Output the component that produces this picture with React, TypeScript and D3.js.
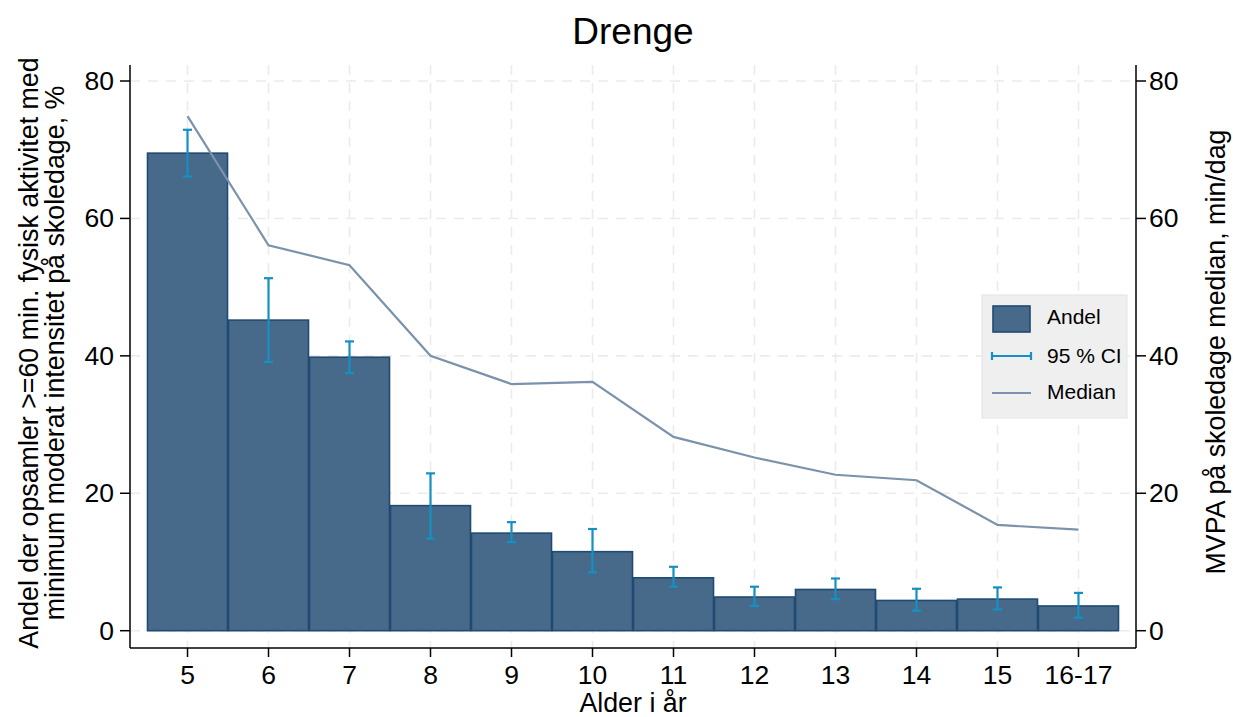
import React from "react";
import * as d3 from "d3";

// Age groups on the x axis
const ageGroups = ["5", "6", "7", "8", "9", "10", "11", "12", "13", "14", "15", "16-17"];
// Share meeting >=60 min MVPA on school days, %
const shareValues = [69.5, 45.2, 39.8, 18.2, 14.2, 11.5, 7.7, 4.9, 6.0, 4.4, 4.6, 3.6];
// 95 % confidence interval bounds, %
const ciLower = [66.1, 39.1, 37.5, 13.4, 12.9, 8.5, 6.4, 3.6, 4.6, 2.9, 3.1, 1.9];
const ciUpper = [72.9, 51.3, 42.1, 22.9, 15.8, 14.8, 9.3, 6.4, 7.6, 6.1, 6.3, 5.5];
// Median MVPA on school days, min/day
const medianValues = [74.9, 56.1, 53.2, 40.0, 35.9, 36.2, 28.2, 25.2, 22.7, 21.9, 15.4, 14.7];
// Tick values shared by both y axes
const yTicks = [0, 20, 40, 60, 80];

const W = 1233;
const H = 717;
const FONT = "'Liberation Sans', Arial, Helvetica, sans-serif";
const BAR_FILL = "#486a8a";
const BAR_STROKE = "#1f4a72";
const CI_COLOR = "#1590c4";
const MEDIAN_COLOR = "#7a92ab";
const GRID = "#ebebeb";

export default function App() {
  const left = 130;
  const right = 1136;
  const top = 65;
  const bottom = 648;

  const x = d3.scaleLinear().domain([-0.71, ageGroups.length - 1 + 0.71]).range([left, right]);
  const y = d3.scaleLinear().domain([0, 80]).range([630.7, 81]);
  const yR = d3.scaleLinear().domain([0, 80]).range([630.7, 81]);
  const step = x(1) - x(0);
  const barW = step - 1;

  const line = d3
    .line<number>()
    .x((_, i) => x(i))
    .y((d) => yR(d));

  const tickFont = 26.5;
  const titleFont = 26.8;
  const capW = 9;

  return (
    <svg width={W} height={H} style={{ display: "block", position: "absolute", left: 0, top: 0 }} fontFamily={FONT}>
      <rect x={0} y={0} width={W} height={H} fill="#ffffff" />

      {/* grid */}
      <g stroke={GRID} strokeWidth={1.6} strokeDasharray="10,8">
        {yTicks.map((t) => (
          <line key={"gy" + t} x1={left} x2={right} y1={y(t)} y2={y(t)} />
        ))}
        {ageGroups.map((a, i) => (
          <line key={"gx" + a} x1={x(i)} x2={x(i)} y1={top} y2={bottom} />
        ))}
      </g>

      {/* bars */}
      <g>
        {shareValues.map((v, i) => (
          <rect
            key={"b" + i}
            x={x(i) - barW / 2}
            y={y(v)}
            width={barW}
            height={y(0) - y(v)}
            fill={BAR_FILL}
            stroke={BAR_STROKE}
            strokeWidth={1.6}
          />
        ))}
      </g>

      {/* confidence intervals */}
      <g stroke={CI_COLOR} strokeWidth={2.2} fill="none">
        {ciLower.map((lo, i) => (
          <g key={"ci" + i}>
            <line x1={x(i)} x2={x(i)} y1={y(lo)} y2={y(ciUpper[i])} />
            <line x1={x(i) - capW / 2} x2={x(i) + capW / 2} y1={y(lo)} y2={y(lo)} />
            <line x1={x(i) - capW / 2} x2={x(i) + capW / 2} y1={y(ciUpper[i])} y2={y(ciUpper[i])} />
          </g>
        ))}
      </g>

      {/* median line */}
      <path d={line(medianValues) || ""} fill="none" stroke={MEDIAN_COLOR} strokeWidth={2.2} />

      {/* axes */}
      <g stroke="#000" strokeWidth={1.5}>
        <line x1={left} x2={left} y1={top} y2={bottom} />
        <line x1={right} x2={right} y1={top} y2={bottom} />
        <line x1={left} x2={right} y1={bottom} y2={bottom} />
        {yTicks.map((t) => (
          <g key={"yt" + t}>
            <line x1={left - 10} x2={left} y1={y(t)} y2={y(t)} />
            <line x1={right} x2={right + 10} y1={yR(t)} y2={yR(t)} />
          </g>
        ))}
        {ageGroups.map((a, i) => (
          <line key={"xt" + a} x1={x(i)} x2={x(i)} y1={bottom} y2={bottom + 9} />
        ))}
      </g>

      {/* tick labels */}
      <g fontSize={tickFont} fill="#000">
        {yTicks.map((t) => (
          <text key={"ly" + t} x={left - 16} y={y(t)} textAnchor="end" dominantBaseline="central">
            {t}
          </text>
        ))}
        {yTicks.map((t) => (
          <text key={"ry" + t} x={right + 13} y={yR(t)} textAnchor="start" dominantBaseline="central">
            {t}
          </text>
        ))}
        {ageGroups.map((a, i) => (
          <text key={"lx" + a} x={x(i)} y={684} textAnchor="middle">
            {a}
          </text>
        ))}
      </g>

      {/* titles */}
      <text x={633} y={44} textAnchor="middle" fontSize={37} fill="#000">
        Drenge
      </text>
      <text x={633} y={712} textAnchor="middle" fontSize={titleFont} fill="#000">
        Alder i år
      </text>
      <g fontSize={titleFont} fill="#000">
        <text transform="translate(29,353) rotate(-90)" textAnchor="middle" dominantBaseline="central">
          Andel der opsamler &gt;=60 min. fysisk aktivitet med
        </text>
        <text transform="translate(55,353) rotate(-90)" textAnchor="middle" dominantBaseline="central">
          minimum moderat intensitet på skoledage, %
        </text>
        <text transform="translate(1216,352) rotate(-90)" textAnchor="middle" dominantBaseline="central">
          MVPA på skoledage median, min/dag
        </text>
      </g>

      {/* legend */}
      <g>
        <rect x={982} y={295} width={145} height={123} fill="#efefef" stroke="#e4e4e4" strokeWidth={1} />
        <rect x={993} y={306} width={37} height={26} fill={BAR_FILL} stroke={BAR_STROKE} strokeWidth={1.6} />
        <g stroke={CI_COLOR} strokeWidth={2.2}>
          <line x1={992} x2={1031} y1={356} y2={356} />
          <line x1={992} x2={992} y1={352} y2={360} />
          <line x1={1031} x2={1031} y1={352} y2={360} />
        </g>
        <line x1={992} x2={1031} y1={393} y2={393} stroke={MEDIAN_COLOR} strokeWidth={2.2} />
        <g fontSize={21} fill="#000">
          <text x={1047} y={316} dominantBaseline="central">Andel</text>
          <text x={1047} y={355} dominantBaseline="central">95 % CI</text>
          <text x={1047} y={391} dominantBaseline="central">Median</text>
        </g>
      </g>
    </svg>
  );
}
